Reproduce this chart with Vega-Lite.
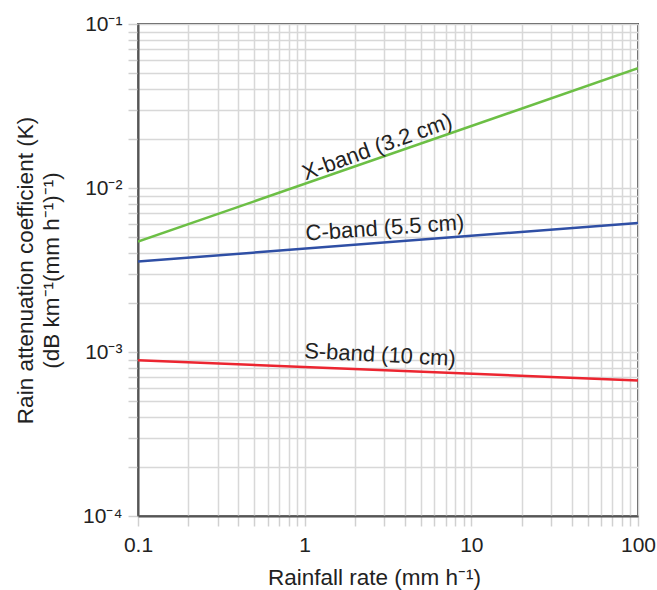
{
  "$schema": "https://vega.github.io/schema/vega-lite/v6.json",
  "width": 500,
  "height": 492,
  "autosize": {"type": "none"},
  "padding": {"left": 138, "top": 24, "right": 19, "bottom": 74},
  "background": "white",
  "config": {
    "font": "Liberation Sans",
    "view": {"stroke": "#555555", "strokeWidth": 2},
    "axis": {
      "grid": true,
      "gridColor": "#d8d8d8",
      "gridWidth": 1.5,
      "tickColor": "#d0d0d0",
      "tickWidth": 1.5,
      "tickSize": 10,
      "domainColor": "#555555",
      "domainWidth": 2,
      "labelFont": "Liberation Sans",
      "labelFontSize": 21,
      "labelColor": "#222222",
      "titleFont": "Liberation Sans",
      "titleFontSize": 22.5,
      "titleFontWeight": "normal",
      "titleColor": "#222222",
      "labelOverlap": false,
      "labelFlush": false
    }
  },
  "datasets": {
    "lines": [
      {"band": "X-band", "R": 0.1, "K": 0.00471},
      {"band": "X-band", "R": 100, "K": 0.0537},
      {"band": "C-band", "R": 0.1, "K": 0.00356},
      {"band": "C-band", "R": 100, "K": 0.00612},
      {"band": "S-band", "R": 0.1, "K": 0.00089},
      {"band": "S-band", "R": 100, "K": 0.00067}
    ],
    "labels": [
      {"band": "X-band", "label": "X-band (3.2 cm)", "R": 2.72, "K": 0.01778},
      {"band": "C-band", "label": "C-band (5.5 cm)", "R": 3.03, "K": 0.0057},
      {"band": "S-band", "label": "S-band (10 cm)", "R": 2.83, "K": 0.00096}
    ]
  },
  "layer": [
    {
      "data": {"name": "lines"},
      "mark": {"type": "line", "strokeWidth": 2.5, "clip": true},
      "encoding": {
        "x": {
          "field": "R", "type": "quantitative",
          "scale": {"type": "log", "domain": [0.1, 100], "nice": false},
          "axis": {
            "title": "Rainfall rate (mm h⁻¹)",
            "titlePadding": 11,
            "titleX": 236,
            "labelPadding": 8,
            "values": [0.1,0.2,0.3,0.4,0.5,0.6,0.7,0.8,0.9,1,2,3,4,5,6,7,8,9,10,20,30,40,50,60,70,80,90,100],
            "labelExpr": "datum.value == 0.1 ? '0.1' : datum.value == 1 ? '1' : datum.value == 10 ? '10' : datum.value == 100 ? '100' : ''"
          }
        },
        "y": {
          "field": "K", "type": "quantitative",
          "scale": {"type": "log", "domain": [0.0001, 0.1], "nice": false},
          "axis": {
            "title": ["Rain attenuation coefficient (K)", "(dB km⁻¹(mm h⁻¹)⁻¹)"],
            "titleLineHeight": 26,
            "titlePadding": 19,
            "labelPadding": 6,
            "values": [0.0001,0.0002,0.0003,0.0004,0.0005,0.0006,0.0007,0.0008,0.0009,0.001,0.002,0.003,0.004,0.005,0.006,0.007,0.008,0.009,0.01,0.02,0.03,0.04,0.05,0.06,0.07,0.08,0.09,0.1],
            "labelExpr": "datum.value == 0.1 ? '10⁻¹' : datum.value == 0.01 ? '10⁻²' : datum.value == 0.001 ? '10⁻³' : datum.value == 0.0001 ? '10⁻⁴' : ''"
          }
        },
        "color": {
          "field": "band", "type": "nominal",
          "scale": {"domain": ["X-band", "C-band", "S-band"], "range": ["#6cbf45", "#2f4fa5", "#ec2530"]},
          "legend": null
        }
      }
    },
    {
      "data": {"name": "labels"},
      "transform": [{"filter": "datum.band == 'X-band'"}],
      "mark": {"type": "text", "angle": -20, "fontSize": 22, "font": "Liberation Sans", "color": "#222222", "align": "center", "baseline": "middle"},
      "encoding": {
        "x": {"field": "R", "type": "quantitative"},
        "y": {"field": "K", "type": "quantitative"},
        "text": {"field": "label"}
      }
    },
    {
      "data": {"name": "labels"},
      "transform": [{"filter": "datum.band == 'C-band'"}],
      "mark": {"type": "text", "angle": -4, "fontSize": 22, "font": "Liberation Sans", "color": "#222222", "align": "center", "baseline": "middle"},
      "encoding": {
        "x": {"field": "R", "type": "quantitative"},
        "y": {"field": "K", "type": "quantitative"},
        "text": {"field": "label"}
      }
    },
    {
      "data": {"name": "labels"},
      "transform": [{"filter": "datum.band == 'S-band'"}],
      "mark": {"type": "text", "angle": 3, "fontSize": 22, "font": "Liberation Sans", "color": "#222222", "align": "center", "baseline": "middle"},
      "encoding": {
        "x": {"field": "R", "type": "quantitative"},
        "y": {"field": "K", "type": "quantitative"},
        "text": {"field": "label"}
      }
    }
  ]
}
